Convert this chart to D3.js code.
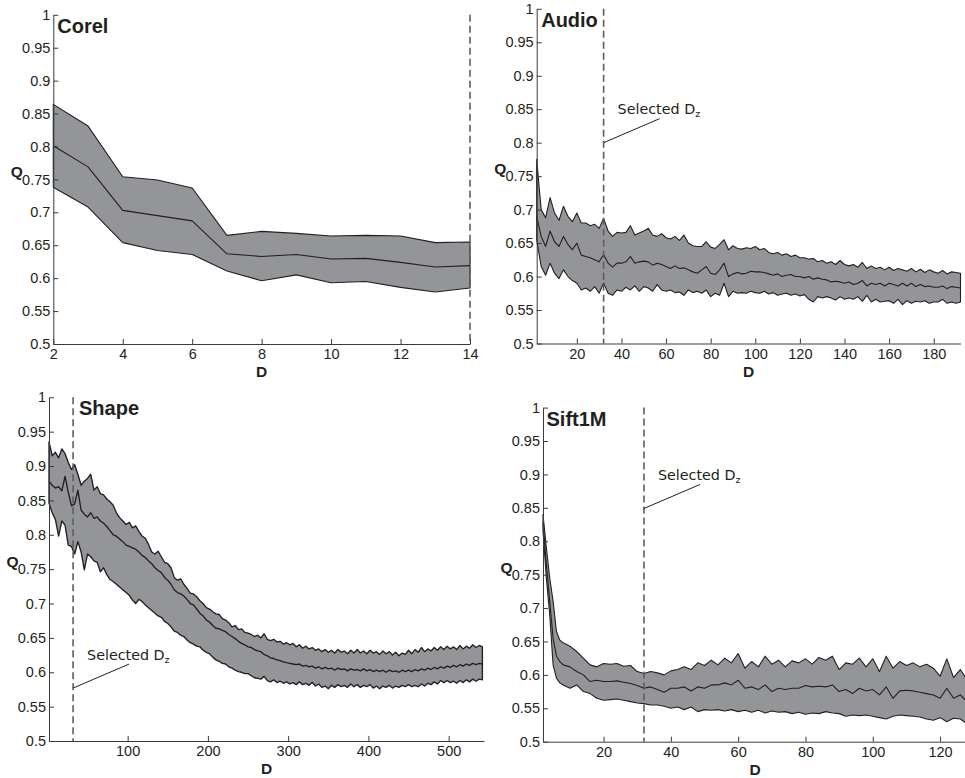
<!DOCTYPE html>
<html>
<head>
<meta charset="utf-8">
<script src="https://cdn.jsdelivr.net/npm/d3@7"></script>
<style>
  body { margin: 0; background: #fff; }
  svg { display: block; }
</style>
</head>
<body>
<svg id="chart" width="965" height="778"></svg>
<script>
// ---- Quality Q as a function of the dimension D, four datasets ----
const qTicks = [0.5, 0.55, 0.6, 0.65, 0.7, 0.75, 0.8, 0.85, 0.9, 0.95, 1];
const qTickLabels = ["0.5", "0.55", "0.6", "0.65", "0.7", "0.75", "0.8", "0.85", "0.9", "0.95", "1"];

// Corel
const corelDims  = [2, 3, 4, 5, 6, 7, 8, 9, 10, 11, 12, 13, 14];
const corelUpper = [0.864, 0.831, 0.754, 0.749, 0.737, 0.665, 0.671, 0.668, 0.664, 0.665, 0.664, 0.654, 0.655];
const corelMean  = [0.801, 0.769, 0.703, 0.695, 0.687, 0.637, 0.633, 0.636, 0.629, 0.630, 0.624, 0.617, 0.619];
const corelLower = [0.738, 0.708, 0.654, 0.642, 0.636, 0.611, 0.596, 0.605, 0.593, 0.595, 0.586, 0.579, 0.585];
const corelXTicks = [2, 4, 6, 8, 10, 12, 14];

// Audio (D = 2, 4, ..., 192)
const audioDims = d3.range(2, 193, 2);
const audioUpper = [
  0.775, 0.70, 0.688, 0.718, 0.695, 0.684, 0.705, 0.69, 0.682, 0.695,
  0.68, 0.68, 0.676, 0.678, 0.672, 0.687, 0.668, 0.66, 0.666, 0.665,
  0.666, 0.676, 0.662, 0.665, 0.668, 0.672, 0.662, 0.66, 0.664, 0.658,
  0.656, 0.66, 0.654, 0.662, 0.65, 0.646, 0.645, 0.645, 0.652, 0.644,
  0.642, 0.648, 0.655, 0.64, 0.646, 0.642, 0.641, 0.643, 0.642, 0.645,
  0.64, 0.642, 0.636, 0.634, 0.636, 0.632, 0.634, 0.63, 0.632, 0.628,
  0.628, 0.626, 0.627, 0.622, 0.624, 0.62, 0.622, 0.618, 0.624, 0.618,
  0.616, 0.618, 0.614, 0.621, 0.612, 0.616, 0.612, 0.614, 0.61, 0.614,
  0.609, 0.612, 0.61, 0.608, 0.612, 0.607, 0.611, 0.606, 0.61, 0.607,
  0.605, 0.609, 0.604, 0.607, 0.606, 0.605
];
const audioMean = [
  0.69, 0.66, 0.645, 0.668, 0.652, 0.645, 0.66, 0.648, 0.64, 0.65,
  0.632, 0.63, 0.628, 0.625, 0.622, 0.633, 0.62, 0.614, 0.62, 0.62,
  0.622, 0.63, 0.62, 0.622, 0.623, 0.622, 0.617, 0.62, 0.618, 0.615,
  0.612, 0.616, 0.612, 0.613, 0.61, 0.607, 0.605, 0.61, 0.615, 0.605,
  0.603, 0.61, 0.62, 0.6, 0.604, 0.606, 0.604, 0.605, 0.608, 0.607,
  0.607, 0.606, 0.604, 0.602, 0.604, 0.6, 0.602, 0.603, 0.6, 0.6,
  0.598, 0.6, 0.596, 0.598, 0.596, 0.595, 0.592, 0.593, 0.592, 0.59,
  0.592, 0.588, 0.59, 0.594, 0.586, 0.59, 0.588, 0.59, 0.586, 0.59,
  0.588, 0.586, 0.59, 0.586, 0.59, 0.585, 0.588, 0.585, 0.586, 0.584,
  0.584, 0.586, 0.582, 0.585, 0.584, 0.583
];
const audioLower = [
  0.655, 0.615, 0.602, 0.62, 0.605, 0.597, 0.61, 0.6, 0.594, 0.59,
  0.58, 0.583, 0.578, 0.585, 0.575, 0.59, 0.575, 0.572, 0.58, 0.578,
  0.584, 0.58, 0.586, 0.578, 0.585, 0.583, 0.578, 0.588, 0.58, 0.578,
  0.58, 0.576, 0.577, 0.572, 0.58, 0.576, 0.578, 0.575, 0.58, 0.57,
  0.575, 0.572, 0.59, 0.57, 0.578, 0.575, 0.576, 0.575, 0.578, 0.576,
  0.575, 0.578, 0.574, 0.576, 0.572, 0.574, 0.575, 0.572, 0.574, 0.571,
  0.573, 0.566, 0.562, 0.57, 0.568, 0.57, 0.568, 0.565, 0.57, 0.566,
  0.568, 0.566, 0.57, 0.563, 0.572, 0.562, 0.566, 0.562, 0.563, 0.564,
  0.56, 0.566, 0.558, 0.564, 0.56, 0.563, 0.562, 0.564, 0.56, 0.562,
  0.562, 0.566, 0.56, 0.562, 0.56, 0.562
];
const audioXTicks = [20, 40, 60, 80, 100, 120, 140, 160, 180];

// Shape (D = 2, 6, ..., 542)
const shapeDims = d3.range(2, 543, 4);
const shapeUpper = [
  0.935, 0.915, 0.92, 0.912, 0.925, 0.918, 0.905, 0.895, 0.902, 0.888,
  0.872, 0.878, 0.882, 0.888, 0.865, 0.87, 0.86, 0.858, 0.852, 0.848,
  0.843, 0.832, 0.825, 0.82, 0.815, 0.818, 0.81, 0.813, 0.805, 0.798,
  0.795, 0.786, 0.775, 0.772, 0.776, 0.768, 0.76, 0.758, 0.752, 0.738,
  0.734, 0.736, 0.728, 0.722, 0.715, 0.714, 0.71, 0.704, 0.7, 0.694,
  0.692, 0.688, 0.685, 0.684, 0.678, 0.676, 0.672, 0.666, 0.668, 0.662,
  0.663, 0.658, 0.657, 0.655, 0.652, 0.654, 0.65, 0.656, 0.648, 0.646,
  0.648, 0.644, 0.645, 0.641, 0.643, 0.64, 0.642, 0.637, 0.64, 0.635,
  0.638, 0.634, 0.636, 0.632, 0.634, 0.63, 0.633, 0.629, 0.632, 0.628,
  0.633, 0.629, 0.631, 0.627, 0.632, 0.628, 0.633, 0.628, 0.631, 0.627,
  0.632, 0.628, 0.63, 0.626, 0.631, 0.627, 0.63, 0.625, 0.629, 0.624,
  0.628, 0.626, 0.632, 0.627, 0.633, 0.629, 0.636, 0.63, 0.634, 0.631,
  0.636, 0.632, 0.637, 0.633, 0.638, 0.634, 0.637, 0.633, 0.639, 0.634,
  0.638, 0.635, 0.64, 0.636, 0.639, 0.637
];
const shapeMean = [
  0.878, 0.872, 0.868, 0.87, 0.864, 0.885, 0.862, 0.842, 0.845, 0.865,
  0.836, 0.83, 0.826, 0.832, 0.824, 0.826, 0.82, 0.817, 0.812, 0.806,
  0.8, 0.798, 0.794, 0.79, 0.785, 0.783, 0.781, 0.779, 0.775, 0.77,
  0.767, 0.762, 0.758, 0.752, 0.748, 0.745, 0.738, 0.734, 0.728, 0.72,
  0.716, 0.714, 0.711, 0.706, 0.7, 0.698, 0.692, 0.686, 0.682, 0.676,
  0.673, 0.668, 0.664, 0.663, 0.661, 0.659, 0.655, 0.652, 0.649, 0.645,
  0.642, 0.64, 0.637, 0.636, 0.633, 0.631, 0.63, 0.626, 0.624, 0.621,
  0.62, 0.618, 0.617, 0.615, 0.614, 0.613, 0.612, 0.611, 0.612, 0.609,
  0.61, 0.608, 0.609, 0.606, 0.608, 0.605, 0.607, 0.605, 0.606, 0.603,
  0.606, 0.604, 0.605, 0.602, 0.605, 0.603, 0.604, 0.602, 0.605, 0.602,
  0.604, 0.601, 0.603, 0.601, 0.603, 0.6, 0.603, 0.601, 0.602, 0.6,
  0.603, 0.601, 0.603, 0.601, 0.604, 0.602, 0.605, 0.603, 0.606, 0.604,
  0.607, 0.605, 0.608, 0.606, 0.609, 0.607, 0.61, 0.608, 0.611, 0.609,
  0.612, 0.61, 0.613, 0.611, 0.613, 0.612
];
const shapeLower = [
  0.846, 0.832, 0.822, 0.798, 0.82, 0.814, 0.785, 0.783, 0.772, 0.79,
  0.775, 0.749, 0.772, 0.768, 0.762, 0.76, 0.746, 0.752, 0.742, 0.735,
  0.732, 0.728, 0.724, 0.72, 0.716, 0.712, 0.705, 0.7, 0.706, 0.703,
  0.698, 0.694, 0.69, 0.686, 0.682, 0.68, 0.674, 0.671, 0.666, 0.66,
  0.658, 0.654, 0.652, 0.647, 0.643, 0.641, 0.638, 0.637, 0.632, 0.629,
  0.627, 0.622, 0.618, 0.616, 0.613, 0.612, 0.608, 0.606, 0.603, 0.601,
  0.6, 0.598, 0.598, 0.595, 0.592, 0.591, 0.59, 0.594, 0.588, 0.586,
  0.589, 0.585, 0.587, 0.584, 0.586, 0.583, 0.585, 0.582, 0.586, 0.582,
  0.584, 0.581, 0.585, 0.58, 0.583, 0.578, 0.58, 0.576, 0.581, 0.578,
  0.582, 0.579, 0.581, 0.578, 0.583, 0.579, 0.582, 0.578, 0.581, 0.579,
  0.582, 0.577, 0.58, 0.576, 0.58, 0.578, 0.581, 0.577, 0.58, 0.578,
  0.581, 0.579, 0.582, 0.579, 0.581, 0.579, 0.583, 0.58, 0.584, 0.582,
  0.586, 0.583, 0.588, 0.585, 0.588, 0.585, 0.587, 0.584, 0.588, 0.585,
  0.589, 0.586, 0.59, 0.587, 0.59, 0.589
];
const shapeXTicks = [100, 200, 300, 400, 500];

// Sift1M (D = 2..7, then 8, 10, ..., 128)
const siftDims = [2, 3, 4, 5, 6, 7].concat(d3.range(8, 129, 2));
const siftUpper = [
  0.84, 0.79, 0.745, 0.71, 0.665, 0.652,
  0.648, 0.643, 0.635, 0.625, 0.615, 0.612, 0.617,
  0.616, 0.617, 0.613, 0.614, 0.605, 0.602, 0.605, 0.603, 0.6, 0.606,
  0.608, 0.612, 0.608, 0.618, 0.614, 0.622, 0.615, 0.625, 0.618, 0.632,
  0.61, 0.62, 0.612, 0.628, 0.616, 0.622, 0.612, 0.621, 0.618, 0.624,
  0.616, 0.626, 0.622, 0.628, 0.608, 0.618, 0.616, 0.625, 0.612, 0.624,
  0.605, 0.628, 0.61, 0.62, 0.614, 0.618, 0.612, 0.616, 0.61, 0.598,
  0.624, 0.596, 0.608, 0.593
];
const siftMean = [
  0.828, 0.765, 0.71, 0.655, 0.628, 0.62,
  0.615, 0.612, 0.605, 0.6, 0.59, 0.592, 0.59,
  0.59, 0.591, 0.589, 0.587, 0.584, 0.58, 0.582, 0.578, 0.574, 0.58,
  0.58, 0.582, 0.576, 0.582, 0.58, 0.585, 0.585, 0.588, 0.585, 0.592,
  0.58, 0.582, 0.578, 0.585, 0.575, 0.58, 0.578, 0.58, 0.58, 0.584,
  0.582, 0.583, 0.582, 0.585, 0.575, 0.578, 0.572, 0.58, 0.576, 0.578,
  0.57, 0.582, 0.565, 0.576, 0.577, 0.576, 0.574, 0.572, 0.57, 0.565,
  0.58, 0.565, 0.57, 0.56
];
const siftLower = [
  0.815, 0.745, 0.69, 0.615, 0.595, 0.588,
  0.585, 0.58, 0.585, 0.575, 0.572, 0.565, 0.562,
  0.563, 0.564, 0.562, 0.56, 0.558, 0.557, 0.555, 0.555, 0.553, 0.55,
  0.552, 0.548, 0.552, 0.545, 0.548, 0.547, 0.548, 0.546, 0.548, 0.545,
  0.547, 0.544, 0.547, 0.543, 0.546, 0.544, 0.545, 0.542, 0.544, 0.541,
  0.543, 0.542, 0.545, 0.543, 0.542, 0.538, 0.54, 0.539, 0.54, 0.538,
  0.536, 0.534, 0.538, 0.54, 0.539, 0.538, 0.537, 0.534, 0.532, 0.536,
  0.53, 0.535, 0.534, 0.527
];
const siftXTicks = [20, 40, 60, 80, 100, 120];

// Selected dimension per dataset
const selectedDims = { Corel: 14, Audio: 32, Shape: 32, Sift1M: 32 };
// Where the "Selected D_z" leader line meets the dashed marker (Q value)
const noteAnchorQ = { Audio: 0.80, Shape: 0.577, Sift1M: 0.849 };

// ---- layout of the four axes boxes (pixels) ----
const panels = [
  { name: "Corel",  dims: corelDims, upper: corelUpper, mean: corelMean, lower: corelLower,
    xDomain: [2, 14], xTicks: corelXTicks, lineWidth: 1.1,
    box: { left: 53.3, right: 470, top: 14.8, bottom: 344 }, titleDx: 4 },
  { name: "Audio",  dims: audioDims, upper: audioUpper, mean: audioMean, lower: audioLower,
    xDomain: [2, 192], xTicks: audioXTicks, lineWidth: 1.1,
    box: { left: 536.7, right: 960.5, top: 8.8, bottom: 343.5 }, titleDx: 4.5 },
  { name: "Shape",  dims: shapeDims, upper: shapeUpper, mean: shapeMean, lower: shapeLower,
    xDomain: [2, 544], xTicks: shapeXTicks, lineWidth: 1.35,
    box: { left: 49, right: 484, top: 397.3, bottom: 741 }, titleDx: 30 },
  { name: "Sift1M", dims: siftDims, upper: siftUpper, mean: siftMean, lower: siftLower,
    xDomain: [2, 128], xTicks: siftXTicks, lineWidth: 1.1,
    box: { left: 543, right: 967, top: 407.6, bottom: 741.7 }, titleDx: 3.5 }
];

const INK = "#231f20";
const BAND = "#939598";
const SANS = "'Liberation Sans', Arial, Helvetica, sans-serif";

const svg = d3.select("#chart");

panels.forEach(p => {
  const b = p.box;
  const x = d3.scaleLinear().domain(p.xDomain).range([b.left, b.right]);
  const y = d3.scaleLinear().domain([0.5, 1]).range([b.bottom, b.top]);
  const g = svg.append("g").attr("class", "panel " + p.name);

  const n = Math.min(p.dims.length, p.upper.length, p.mean.length, p.lower.length);
  const rows = d3.range(n).map(i => ({ d: p.dims[i], u: p.upper[i], m: p.mean[i], l: p.lower[i] }));

  // spread band (closed patch)
  const upperPts = rows.map(r => [x(r.d), y(r.u)]);
  const lowerPts = rows.map(r => [x(r.d), y(r.l)]).reverse();
  g.append("path")
    .attr("d", d3.line()(upperPts.concat(lowerPts)) + "Z")
    .attr("fill", BAND)
    .attr("stroke", INK)
    .attr("stroke-width", p.lineWidth)
    .attr("stroke-linejoin", "round");

  // mean curve
  g.append("path")
    .attr("d", d3.line().x(r => x(r.d)).y(r => y(r.m))(rows))
    .attr("fill", "none")
    .attr("stroke", INK)
    .attr("stroke-width", p.lineWidth)
    .attr("stroke-linejoin", "round");

  // selected dimension marker
  const sx = x(selectedDims[p.name]);
  g.append("line")
    .attr("x1", sx).attr("x2", sx)
    .attr("y1", y(1)).attr("y2", y(0.5))
    .attr("stroke", "#5e5e5e")
    .attr("stroke-width", 1.6)
    .attr("stroke-dasharray", "7,4");

  // axes (ticks point inward)
  const yAxis = d3.axisLeft(y)
    .tickValues(qTicks)
    .tickFormat((d, i) => qTickLabels[i])
    .tickSizeInner(-5).tickSizeOuter(0).tickPadding(3);
  const xAxis = d3.axisBottom(x)
    .tickValues(p.xTicks)
    .tickFormat(d3.format("d"))
    .tickSizeInner(-5).tickSizeOuter(0).tickPadding(5);

  const ya = g.append("g").attr("transform", `translate(${b.left},0)`).call(yAxis);
  const xa = g.append("g").attr("transform", `translate(0,${b.bottom})`).call(xAxis);
  [ya, xa].forEach(a => {
    a.selectAll("path, line").attr("stroke", "#3a3a3a").attr("stroke-width", 1);
    a.selectAll("text").attr("fill", INK)
      .style("font-family", SANS).style("font-size", "14.5px");
  });

  // axis names
  g.append("text")
    .attr("x", (b.left + b.right) / 2)
    .attr("y", b.bottom + 33)
    .attr("text-anchor", "middle")
    .style("font-family", SANS).style("font-size", "15.5px").style("font-weight", "bold")
    .attr("fill", INK)
    .text("D");
  g.append("text")
    .attr("x", b.left - 36.5)
    .attr("y", (b.top + b.bottom) / 2 - 2)
    .attr("text-anchor", "middle")
    .style("font-family", SANS).style("font-size", "15.5px").style("font-weight", "bold")
    .attr("fill", INK)
    .text("Q");

  // dataset title
  g.append("text")
    .attr("x", b.left + p.titleDx)
    .attr("y", b.top + 18)
    .style("font-family", SANS).style("font-size", "20px").style("font-weight", "bold")
    .attr("fill", INK)
    .text(p.name);

  // "Selected D_z" note with leader line
  if (noteAnchorQ[p.name] !== undefined) {
    const ax = sx, ay = y(noteAnchorQ[p.name]);
    g.append("line")
      .attr("x1", ax).attr("y1", ay)
      .attr("x2", ax + 56).attr("y2", ay - 24)
      .attr("stroke", INK).attr("stroke-width", 1);
    const t = g.append("text")
      .attr("x", ax + 14).attr("y", ay - 28.5)
      .style("font-family", "'DejaVu Sans', Verdana, sans-serif")
      .style("font-size", "14.3px")
      .attr("fill", INK);
    t.append("tspan").text("Selected D");
    t.append("tspan").attr("dy", 3).style("font-size", "9.5px").text("z");
  }
});
</script>
</body>
</html>
